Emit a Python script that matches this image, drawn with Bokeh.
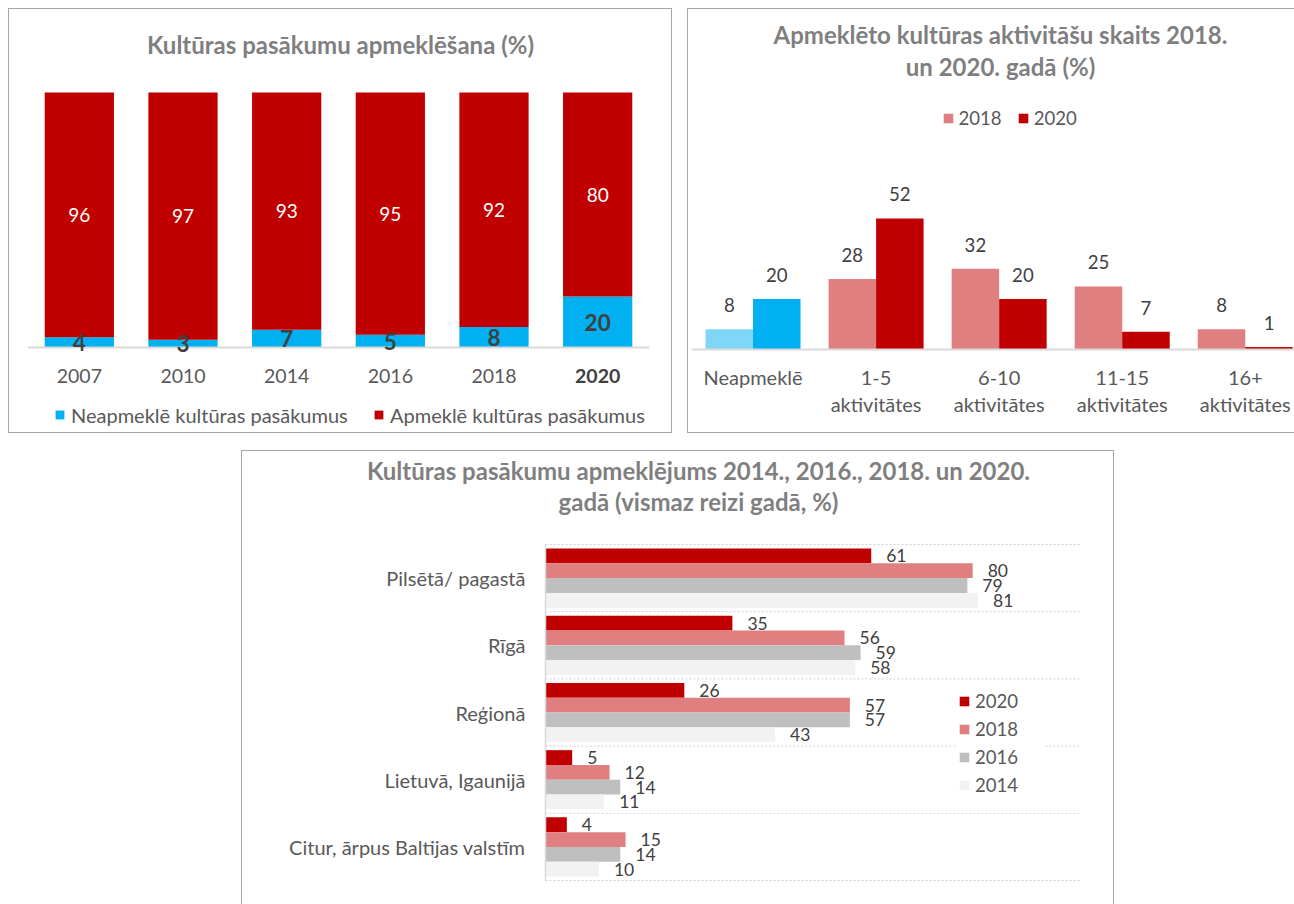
from bokeh.plotting import figure
from bokeh.models import (ColumnDataSource, Range1d, FixedTicker, LabelSet, Label,
                          Legend, LegendItem, Spacer, LinearAxis)
from bokeh.layouts import row, column
from bokeh.core.properties import value
from bokeh.embed import file_html
from bokeh.resources import INLINE

# ---------------- data ----------------
title1 = "Kultūras pasākumu apmeklēšana (%)"
years = ["2007", "2010", "2014", "2016", "2018", "2020"]
not_attending = [4, 3, 7, 5, 8, 20]
attending = [96, 97, 93, 95, 92, 80]
series1_names = ["Neapmeklē kultūras pasākumus", "Apmeklē kultūras pasākumus"]

title2 = ["Apmeklēto kultūras aktivitāšu skaits 2018.", "un 2020. gadā (%)"]
activity_cats = ["Neapmeklē", "1-5\naktivitātes", "6-10\naktivitātes",
                 "11-15\naktivitātes", "16+\naktivitātes"]
series2_names = ["2018", "2020"]
share_2018 = [8, 28, 32, 25, 8]
share_2020 = [20, 52, 20, 7, 1]

title3 = ["Kultūras pasākumu apmeklējums 2014., 2016., 2018. un 2020.",
          "gadā (vismaz reizi gadā, %)"]
places = ["Pilsētā/ pagastā", "Rīgā", "Reģionā", "Lietuvā, Igaunijā",
          "Citur, ārpus Baltijas valstīm"]
series3_names = ["2020", "2018", "2016", "2014"]
visits_2020 = [61, 35, 26, 5, 4]
visits_2018 = [80, 56, 57, 12, 15]
visits_2016 = [79, 59, 57, 14, 14]
visits_2014 = [81, 58, 43, 11, 10]

# ---------------- styles ----------------
FONT = "Lato"
TITLE_COLOR = "#7f7f7f"
TEXT = "#595959"
DARK = "#404040"
AXIS = "#d9d9d9"
BORDER = "#a6a6a6"
RED = "#c00000"
PINK = "#e07f7f"
BLUE = "#00b0f0"
LBLUE = "#7fd6f7"
GREY = "#bfbfbf"
LGREY = "#f2f2f2"
TITLE_SIZE = "24px"


def base_fig(w, h, left, right, top, bottom, xr, yr):
    p = figure(width=w, height=h, x_range=xr, y_range=yr, title=None,
               output_backend="svg", toolbar_location=None,
               x_axis_location=None, y_axis_location=None,
               min_border_left=left, min_border_right=right,
               min_border_top=top, min_border_bottom=bottom)
    p.grid.visible = False
    p.outline_line_color = None
    p.background_fill_color = "white"
    p.border_fill_color = "white"
    p.styles = {"outline": f"1px solid {BORDER}"}
    return p


def make_axis(ticks, overrides, size, standoff, bounds="auto"):
    ax = LinearAxis(ticker=FixedTicker(ticks=ticks), fixed_location=0, bounds=bounds)
    ax.major_label_overrides = overrides
    ax.axis_line_color = AXIS
    ax.axis_line_width = 2
    ax.major_tick_line_color = None
    ax.minor_tick_line_color = None
    ax.major_tick_out = 0
    ax.major_tick_in = 0
    ax.minor_tick_out = 0
    ax.minor_tick_in = 0
    ax.major_label_text_font = FONT
    ax.major_label_text_font_size = size
    ax.major_label_text_color = TEXT
    ax.major_label_standoff = standoff
    return ax


def title_label(p, text, x, y):
    p.add_layout(Label(x=x, y=y, x_units="screen", y_units="screen", text=text,
                       text_align="center", text_baseline="alphabetic",
                       text_font=FONT, text_font_size=TITLE_SIZE, text_font_style="bold",
                       text_color=TITLE_COLOR))


def legend(items, loc, **kw):
    opts = dict(location=loc, padding=0, margin=0, spacing=0, border_line_color=None,
                background_fill_alpha=0, label_text_font=FONT,
                label_text_font_size="18.6px", label_text_color=TEXT,
                label_height=22, glyph_width=11, glyph_height=11, label_standoff=6)
    opts.update(kw)
    return Legend(items=items, **opts)


# ---------------- panel 1 ----------------
idx1 = list(range(len(years)))
p1 = base_fig(662, 423, 18, 22, 1, 1,
              Range1d(-0.5, len(years) - 0.5), Range1d(-32.94, 132.16))
src1 = ColumnDataSource(dict(
    x=idx1, neap=not_attending, apm=attending,
    neap_y=[v / 2 for v in not_attending],
    apm_y=[n + a / 2 for n, a in zip(not_attending, attending)],
    neap_t=[str(v) for v in not_attending],
    apm_t=[str(v) for v in attending]))
rs1 = p1.vbar_stack(["neap", "apm"], x="x", width=0.668, fill_color=[BLUE, RED],
                    line_color=None, source=src1)
ov1 = {i: y for i, y in enumerate(years)}
ov1[idx1[-1]] = ""
p1.add_layout(make_axis(idx1, ov1, "19.5px", 21), "below")
p1.add_layout(LabelSet(x="x", y="apm_y", text="apm_t", source=src1,
                       text_align="center", text_baseline="middle",
                       text_font=value(FONT), text_font_size=value("19px"),
                       text_color=value("white")))
p1.add_layout(LabelSet(x="x", y="neap_y", text="neap_t", source=src1,
                       text_align="center", text_baseline="middle",
                       text_font=value(FONT), text_font_size=value("22.5px"),
                       text_font_style=value("bold"), text_color=value(DARK)))
p1.add_layout(Label(x=idx1[-1], y=56, y_units="screen", text=years[-1],
                    text_align="center", text_baseline="alphabetic", text_font=FONT,
                    text_font_size="19.5px", text_font_style="bold", text_color=DARK))
title_label(p1, title1, 313, 387.5)
leg_kw = dict(label_text_font_size="20px", label_height=24)
p1.add_layout(legend([LegendItem(label=series1_names[0], renderers=[rs1[0]])],
                     (27, 4.3), **leg_kw))
p1.add_layout(legend([LegendItem(label=series1_names[1], renderers=[rs1[1]])],
                     (346, 4.3), **leg_kw))

# ---------------- panel 2 ----------------
idx2 = list(range(len(activity_cats)))
p2 = base_fig(606, 423, 3, 0, 1, 1, Range1d(-0.5, 4.4), Range1d(-32.54, 134.52))
off2 = 0.193
src2 = ColumnDataSource(dict(
    x18=[i - off2 for i in idx2], x20=[i + off2 for i in idx2],
    v18=share_2018, v20=share_2020,
    c18=[LBLUE] + [PINK] * (len(idx2) - 1), c20=[BLUE] + [RED] * (len(idx2) - 1),
    t18=[str(v) for v in share_2018], t20=[str(v) for v in share_2020]))
r18 = p2.vbar(x="x18", top="v18", width=0.386, fill_color="c18", line_color=None, source=src2)
r20 = p2.vbar(x="x20", top="v20", width=0.386, fill_color="c20", line_color=None, source=src2)
for xs, ys, ts in (("x18", "v18", "t18"), ("x20", "v20", "t20")):
    p2.add_layout(LabelSet(x=xs, y=ys, text=ts, source=src2, y_offset=24,
                           text_align="center", text_baseline="middle",
                           text_font=value(FONT), text_font_size=value("18.6px"),
                           text_color=value(DARK)))
ax2 = make_axis(idx2, {i: c for i, c in enumerate(activity_cats)}, "20px", 16)
ax2.major_label_text_line_height = 1.12
p2.add_layout(ax2, "below")
title_label(p2, title2[0], 309, 397)
title_label(p2, title2[1], 309, 365.5)
p2.add_layout(legend([LegendItem(label=series2_names[0], renderers=[r18], index=1),
                      LegendItem(label=series2_names[1], renderers=[r20], index=1)],
                     (250.5, 302), orientation="horizontal", spacing=15,
                     glyph_width=12, glyph_height=12, label_standoff=5))

# ---------------- panel 3 ----------------
n3 = len(places)
p3 = base_fig(871, 453, 1, 1, 1, 1, Range1d(-56.55, 106.18), Range1d(-0.342, 6.369))
centers = [n3 - i - 0.5 for i in range(n3)]
bounds3 = list(range(n3 + 1))
p3.segment(x0=[0] * len(bounds3), x1=[100] * len(bounds3), y0=bounds3, y1=bounds3,
           line_color="#d0d0d0", line_dash="2 2", line_width=1)
series3 = [(series3_names[0], visits_2020, RED, 0.33),
           (series3_names[1], visits_2018, PINK, 0.11),
           (series3_names[2], visits_2016, GREY, -0.11),
           (series3_names[3], visits_2014, LGREY, -0.33)]
items3 = []
for name, vals, col, off in series3:
    s = ColumnDataSource(dict(y=[c + off for c in centers], v=vals,
                              t=[str(v) for v in vals]))
    r = p3.hbar(y="y", left=0, right="v", height=0.22, fill_color=col,
                line_color=None, source=s)
    items3.append(LegendItem(label=name, renderers=[r]))
    p3.add_layout(LabelSet(x="v", y="y", text="t", source=s, x_offset=15,
                           text_align="left", text_baseline="middle",
                           text_font=value(FONT), text_font_size=value("17.5px"),
                           text_color=value(DARK)))
ay3 = make_axis(centers, {c: pl for c, pl in zip(centers, places)},
                "20px", 20, bounds=(0, n3))
ay3.axis_line_width = 1.5
p3.add_layout(ay3, "left")
title_label(p3, title3[0], 455, 433)
title_label(p3, title3[1], 455, 402.5)
p3.add_layout(legend(items3, (715, 106.8), orientation="vertical", spacing=6,
                     padding=8, background_fill_alpha=1, background_fill_color="white",
                     glyph_width=12, glyph_height=12, label_standoff=5, label_width=70))

layout = column(Spacer(height=9),
                row(Spacer(width=9), p1, Spacer(width=17), p2),
                Spacer(height=19),
                row(Spacer(width=242), p3))

open("out.html", "w").write(file_html(layout, INLINE))
